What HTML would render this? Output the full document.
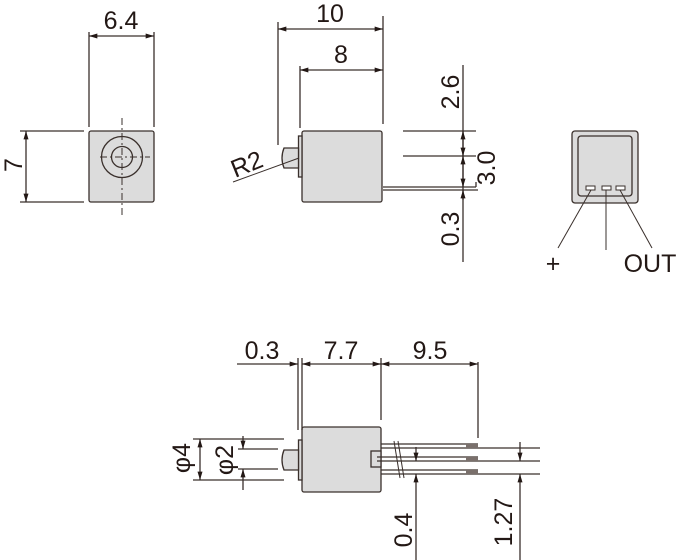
<!DOCTYPE html>
<html><head><style>
html,body{margin:0;padding:0;background:#fff;}
svg{display:block;}
text{font-family:"Liberation Sans",sans-serif;fill:#231815;}
</style></head><body>
<svg width="678" height="560" viewBox="0 0 678 560" xmlns="http://www.w3.org/2000/svg">
<defs>
<marker id="a" viewBox="0 0 10 6" refX="10" refY="3" markerWidth="9" markerHeight="5" orient="auto-start-reverse" markerUnits="userSpaceOnUse"><path d="M0,0 L10,3 L0,6z" fill="#231815"/></marker>
</defs>
<g stroke="#3a302c" stroke-width="1.3" fill="none">
<rect x="89" y="131" width="65" height="71" rx="2" fill="#dcdcdc"/>
<circle cx="122" cy="157" r="20.5"/>
<circle cx="122" cy="157" r="10.5"/>
<line x1="122" y1="118" x2="122" y2="218" stroke-dasharray="7,3,2,3" stroke-width="1"/>
<line x1="100" y1="157" x2="150" y2="157" stroke-dasharray="7,3,2,3" stroke-width="1"/>
<line x1="89" y1="32" x2="89" y2="127"/>
<line x1="154" y1="32" x2="154" y2="127"/>
<line x1="89" y1="36" x2="154" y2="36" marker-start="url(#a)" marker-end="url(#a)"/>
<line x1="20" y1="131" x2="84" y2="131"/>
<line x1="20" y1="202" x2="84" y2="202"/>
<line x1="26" y1="131" x2="26" y2="202" marker-start="url(#a)" marker-end="url(#a)"/>

<rect x="302" y="131" width="80" height="71" rx="2" fill="#dcdcdc"/>
<rect x="298.5" y="136" width="3.5" height="41" fill="#dcdcdc"/>
<path d="M298.5,148 L284,148 Q280,158 284,168 L298.5,168z" fill="#dcdcdc"/>
<line x1="278" y1="22" x2="278" y2="145"/>
<line x1="383" y1="16" x2="383" y2="124"/>
<line x1="278" y1="29" x2="383" y2="29" marker-start="url(#a)" marker-end="url(#a)"/>
<line x1="300" y1="66" x2="300" y2="128"/>
<line x1="300" y1="70" x2="383" y2="70" marker-start="url(#a)" marker-end="url(#a)"/>
<line x1="233" y1="182" x2="299" y2="158" stroke-width="1"/>
<line x1="383" y1="187" x2="476" y2="187"/>
<line x1="383" y1="190" x2="478" y2="190"/>
<path d="M476,187 L476,182"/>
<line x1="403" y1="131" x2="476" y2="131"/>
<line x1="403" y1="156" x2="476" y2="156"/>
<line x1="463" y1="65" x2="463" y2="262"/>
<line x1="463" y1="131" x2="463" y2="156" marker-start="url(#a)" marker-end="url(#a)"/>
<line x1="463" y1="156" x2="463" y2="187" marker-start="url(#a)" marker-end="url(#a)"/>
<line x1="463" y1="200" x2="463" y2="190" marker-end="url(#a)"/>

<rect x="572" y="131" width="66" height="72" rx="3" fill="#dcdcdc"/>
<rect x="578" y="136" width="54" height="60" rx="3" fill="#dcdcdc"/>
<rect x="586" y="186" width="9" height="4" fill="#fff" stroke-width="1"/>
<rect x="602" y="186" width="9" height="4" fill="#fff" stroke-width="1"/>
<rect x="616" y="186" width="9" height="4" fill="#fff" stroke-width="1"/>
<line x1="591" y1="190" x2="558" y2="248" stroke-width="1"/>
<line x1="606" y1="190" x2="606" y2="250" stroke-width="1"/>
<line x1="620" y1="190" x2="652" y2="248" stroke-width="1"/>

<rect x="302" y="427" width="79" height="65" rx="2" fill="#dcdcdc"/>
<rect x="298.5" y="440" width="3.5" height="40" fill="#dcdcdc"/>
<path d="M298.5,450 L284,450 Q280,460 284,470 L298.5,470z" fill="#dcdcdc"/>
<rect x="371" y="451" width="10" height="16" fill="#dcdcdc"/>
<line x1="381" y1="444" x2="478" y2="444"/><line x1="381" y1="448" x2="540" y2="448"/>
<line x1="377" y1="457" x2="478" y2="457"/><line x1="377" y1="461" x2="540" y2="461"/>
<line x1="381" y1="470" x2="478" y2="470"/><line x1="381" y1="474" x2="540" y2="474"/>
<rect x="466" y="444" width="12" height="4" fill="#7a706c" stroke="none"/>
<rect x="466" y="457" width="12" height="4" fill="#7a706c" stroke="none"/>
<rect x="466" y="470" width="12" height="4" fill="#7a706c" stroke="none"/>
<line x1="394" y1="441" x2="400" y2="478" stroke-width="1"/>
<line x1="398" y1="441" x2="404" y2="478" stroke-width="1"/>
<line x1="298" y1="358" x2="298" y2="430"/>
<line x1="302" y1="358" x2="302" y2="430"/>
<line x1="381" y1="358" x2="381" y2="420"/>
<line x1="478" y1="362" x2="478" y2="438"/>
<line x1="237" y1="364" x2="298" y2="364" marker-end="url(#a)"/>
<line x1="302" y1="364" x2="381" y2="364" marker-start="url(#a)" marker-end="url(#a)"/>
<line x1="381" y1="364" x2="478" y2="364" marker-start="url(#a)" marker-end="url(#a)"/>
<line x1="193" y1="439" x2="284" y2="439"/>
<line x1="193" y1="480" x2="284" y2="480"/>
<line x1="200" y1="439" x2="200" y2="480" marker-start="url(#a)" marker-end="url(#a)"/>
<line x1="238" y1="449" x2="278" y2="449"/>
<line x1="238" y1="469" x2="278" y2="469"/>
<line x1="243" y1="436" x2="243" y2="449" marker-end="url(#a)"/>
<line x1="243" y1="490" x2="243" y2="469" marker-end="url(#a)"/>
<line x1="416" y1="447" x2="416" y2="461" marker-end="url(#a)"/>
<line x1="416" y1="560" x2="416" y2="474" marker-end="url(#a)"/>
<line x1="520" y1="442" x2="520" y2="461" marker-end="url(#a)"/>
<line x1="520" y1="560" x2="520" y2="474" marker-end="url(#a)"/>
</g>
<g font-size="25">
<text x="121" y="29" text-anchor="middle">6.4</text>
<text x="22" y="165" text-anchor="middle" transform="rotate(-90 22 165)">7</text>
<text x="330" y="22" text-anchor="middle">10</text>
<text x="341" y="63" text-anchor="middle">8</text>
<text x="250" y="172" text-anchor="middle" transform="rotate(-22 250 172)">R2</text>
<text x="459" y="92" text-anchor="middle" transform="rotate(-90 459 92)">2.6</text>
<text x="495" y="168" text-anchor="middle" transform="rotate(-90 495 168)">3.0</text>
<text x="459" y="229" text-anchor="middle" transform="rotate(-90 459 229)">0.3</text>
<text x="553" y="272" text-anchor="middle">+</text>
<text x="650" y="272" text-anchor="middle">OUT</text>
<text x="262" y="359" text-anchor="middle">0.3</text>
<text x="341" y="359" text-anchor="middle">7.7</text>
<text x="430" y="359" text-anchor="middle">9.5</text>
<text x="190" y="458" text-anchor="middle" transform="rotate(-90 190 458)">φ4</text>
<text x="233" y="460" text-anchor="middle" transform="rotate(-90 233 460)">φ2</text>
<text x="412" y="530" text-anchor="middle" transform="rotate(-90 412 530)">0.4</text>
<text x="512" y="522" text-anchor="middle" transform="rotate(-90 512 522)">1.27</text>
</g>
</svg>
</body></html>
